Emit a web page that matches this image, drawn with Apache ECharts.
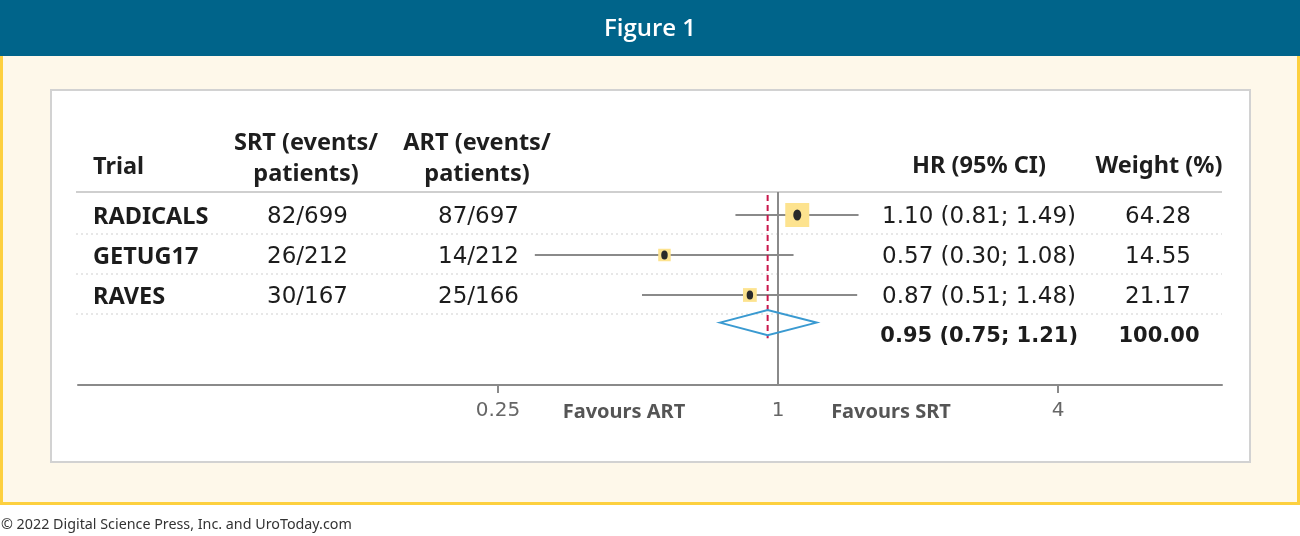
<!DOCTYPE html>
<html>
<head>
<meta charset="utf-8">
<script src="https://cdn.jsdelivr.net/npm/echarts@6/dist/echarts.min.js"></script>
<style>
html,body{margin:0;padding:0;background:#fff;}
#chart{width:1300px;height:536px;}
</style>
</head>
<body>
<div id="chart"></div>
<script>
// ---- data ----
const trials = ['RADICALS', 'GETUG17', 'RAVES'];
const srtCounts = ['82/699', '26/212', '30/167'];
const artCounts = ['87/697', '14/212', '25/166'];
const hr = [1.10, 0.57, 0.87];
const ciLow = [0.81, 0.30, 0.51];
const ciHigh = [1.49, 1.08, 1.48];
const weights = [64.28, 14.55, 21.17];
const pooled = [0.95, 0.75, 1.21];   // HR, low, high
const pooledWeight = 100.00;
const tickValues = [0.25, 1, 4];
const favourLabels = ['Favours ART', 'Favours SRT'];
const headers = ['Trial', 'SRT (events/\npatients)', 'ART (events/\npatients)', 'HR (95% CI)', 'Weight (%)'];
const title = 'Figure 1';
const credit = '\u00a9 2022 Digital Science Press, Inc. and UroToday.com';

// ---- layout ----
const ROW0 = 215, ROWH = 40;
const rowY = i => ROW0 + ROWH * i;
const TXT_DY = 2;
const SUMMARY_ROW = 3;
const DIAMOND_ROW = 2.69;
const REG = 'DejaVu Sans';
const BOLD = 'Noto Sans';
const txtCol = '#1c1c1c';
const lineCol = '#8a8a8a';
const f2 = v => v.toFixed(2);

const chart = echarts.init(document.getElementById('chart'));

const graphics = [
  {type: 'rect', z: -10, shape: {x: 0, y: 0, width: 1300, height: 56}, style: {fill: '#00648a'}},
  {type: 'text', z: -5, x: 650, y: 29, style: {text: title, fill: '#fff', fontSize: 24, fontFamily: 'Open Sans', fontWeight: 600, align: 'center', verticalAlign: 'middle'}},
  {type: 'rect', z: -10, shape: {x: 0, y: 56, width: 1300, height: 449}, style: {fill: '#fdd03f'}},
  {type: 'rect', z: -9, shape: {x: 3, y: 56, width: 1294, height: 446}, style: {fill: '#fef8ea'}},
  {type: 'rect', z: -8, shape: {x: 51, y: 90, width: 1199, height: 372}, style: {fill: '#fff', stroke: '#d2d2d2', lineWidth: 2}},
  {type: 'text', z: -5, x: 1, y: 525, style: {text: credit, fill: '#333', fontSize: 14.3, fontFamily: 'Noto Sans', align: 'left', verticalAlign: 'middle'}},
  // header separator
  {type: 'line', z: -5, shape: {x1: 76, y1: 192, x2: 1222, y2: 192}, style: {stroke: '#cfcfcf', lineWidth: 2}}
];
// dotted row separators
[0, 1, 2].forEach(i => {
  const y = rowY(i) + 19;
  graphics.push({type: 'line', z: -5, shape: {x1: 76, y1: y, x2: 1222, y2: y}, style: {stroke: '#cfcfcf', lineWidth: 1, lineDash: [2, 3]}});
});
// headers
const hStyle = (t, x, y, align) => ({type: 'text', x, y, style: {text: t, fill: '#1e1e1e', fontSize: 23.5, fontFamily: BOLD, fontWeight: 'bold', align, verticalAlign: 'middle', lineHeight: 31}});
graphics.push(hStyle(headers[0], 93, 167, 'left'));
graphics.push(hStyle(headers[1], 306, 159, 'center'));
graphics.push(hStyle(headers[2], 477, 159, 'center'));
graphics.push(hStyle(headers[3], 979, 166, 'center'));
graphics.push(hStyle(headers[4], 1159, 166, 'center'));
// body cells
const cell = (t, x, y, align, kind) => ({type: 'text', x, y: y + TXT_DY, style: {
  text: t, fill: txtCol,
  fontSize: kind === 'name' ? 23.5 : (kind === 'bold' ? 21 : 23),
  fontFamily: kind === 'name' ? BOLD : REG,
  fontWeight: kind ? 'bold' : 'normal', align, verticalAlign: 'middle'}});
trials.forEach((t, i) => {
  const y = rowY(i);
  graphics.push(cell(t, 93, y, 'left', 'name'));
  graphics.push(cell(srtCounts[i], 348, y, 'right'));
  graphics.push(cell(artCounts[i], 519, y, 'right'));
  graphics.push(cell(f2(hr[i]) + ' (' + f2(ciLow[i]) + '; ' + f2(ciHigh[i]) + ')', 1076, y, 'right'));
  graphics.push(cell(f2(weights[i]), 1158, y, 'center'));
});
graphics.push(cell(f2(pooled[0]) + ' (' + f2(pooled[1]) + '; ' + f2(pooled[2]) + ')', 1078, rowY(SUMMARY_ROW), 'right', 'bold'));
graphics.push(cell(f2(pooledWeight), 1159, rowY(SUMMARY_ROW), 'center', 'bold'));
// favours labels
graphics.push({type: 'text', x: 624, y: 412, style: {text: favourLabels[0], fill: '#555', fontSize: 20, fontFamily: BOLD, fontWeight: 'bold', align: 'center', verticalAlign: 'middle'}});
graphics.push({type: 'text', x: 891, y: 412, style: {text: favourLabels[1], fill: '#555', fontSize: 20, fontFamily: BOLD, fontWeight: 'bold', align: 'center', verticalAlign: 'middle'}});

// y axis in row units: pixel = ROW0 + ROWH * v
const GRID_TOP = 190, GRID_BOTTOM = 385;
const yMin = (GRID_TOP - ROW0) / ROWH;
const yMax = (GRID_BOTTOM - ROW0) / ROWH;

const maxW = Math.max(...weights);
const sqSize = w => Math.max(12.5, 24 * Math.sqrt(w / maxW));

const ciData = trials.map((t, i) => [ciLow[i], ciHigh[i], i]);
const pointData = trials.map((t, i) => [hr[i], i, weights[i]]);

chart.setOption({
  backgroundColor: '#fff',
  animation: false,
  graphic: {elements: graphics},
  grid: {left: 78, right: 78, top: GRID_TOP, bottom: 536 - GRID_BOTTOM, containLabel: false},
  xAxis: {
    type: 'log', logBase: 2, min: 1 / 32, max: Math.pow(2, 444 / 140),
    axisLine: {show: true, onZero: false, lineStyle: {color: lineCol, width: 2}},
    axisTick: {show: true, customValues: [tickValues[0], tickValues[2]], length: 8, lineStyle: {color: lineCol, width: 2}},
    axisLabel: {customValues: tickValues, color: '#666', fontSize: 20, fontFamily: REG, margin: 16,
      formatter: v => String(Number(Number(v).toPrecision(6)))},
    splitLine: {show: false}
  },
  yAxis: {type: 'value', inverse: true, min: yMin, max: yMax, show: false},
  series: [
    { // null-effect line at HR = 1
      type: 'line', symbol: 'none', silent: true,
      data: [[1, yMin + 0.05], [1, yMax]],
      lineStyle: {color: lineCol, width: 2}
    },
    { // pooled estimate dashed line
      type: 'line', symbol: 'none', silent: true, z: 4,
      data: [[pooled[0], -0.5], [pooled[0], 3.08]],
      lineStyle: {color: '#c8174b', width: 2, type: [6, 4]}
    },
    { // CI whiskers
      type: 'custom', z: 3,
      data: ciData,
      renderItem: (params, api) => {
        const a = api.coord([api.value(0), api.value(2)]);
        const b = api.coord([api.value(1), api.value(2)]);
        return {type: 'line', shape: {x1: a[0], y1: a[1], x2: b[0], y2: b[1]}, style: {stroke: lineCol, lineWidth: 2}};
      }
    },
    { // weight squares
      type: 'scatter', z: 5, symbol: 'rect',
      data: pointData,
      symbolSize: v => sqSize(v[2]),
      itemStyle: {color: '#fde38f', opacity: 1}
    },
    { // point estimates
      type: 'scatter', z: 6, symbol: 'circle',
      data: pointData,
      symbolSize: v => (v[2] > 50 ? [8, 11] : [6.5, 9]),
      itemStyle: {color: '#2a2a2a', opacity: 1}
    },
    { // pooled diamond
      type: 'custom', z: 5,
      data: [[pooled[0], pooled[1], pooled[2], DIAMOND_ROW]],
      renderItem: (params, api) => {
        const y = api.value(3), h = 0.3125;
        const pts = [
          api.coord([api.value(1), y]),
          api.coord([api.value(0), y - h]),
          api.coord([api.value(2), y]),
          api.coord([api.value(0), y + h])
        ];
        return {type: 'polygon', shape: {points: pts}, style: {fill: 'rgba(255,255,255,0)', stroke: '#3a9ad1', lineWidth: 2}};
      }
    }
  ]
});
</script>
</body>
</html>
